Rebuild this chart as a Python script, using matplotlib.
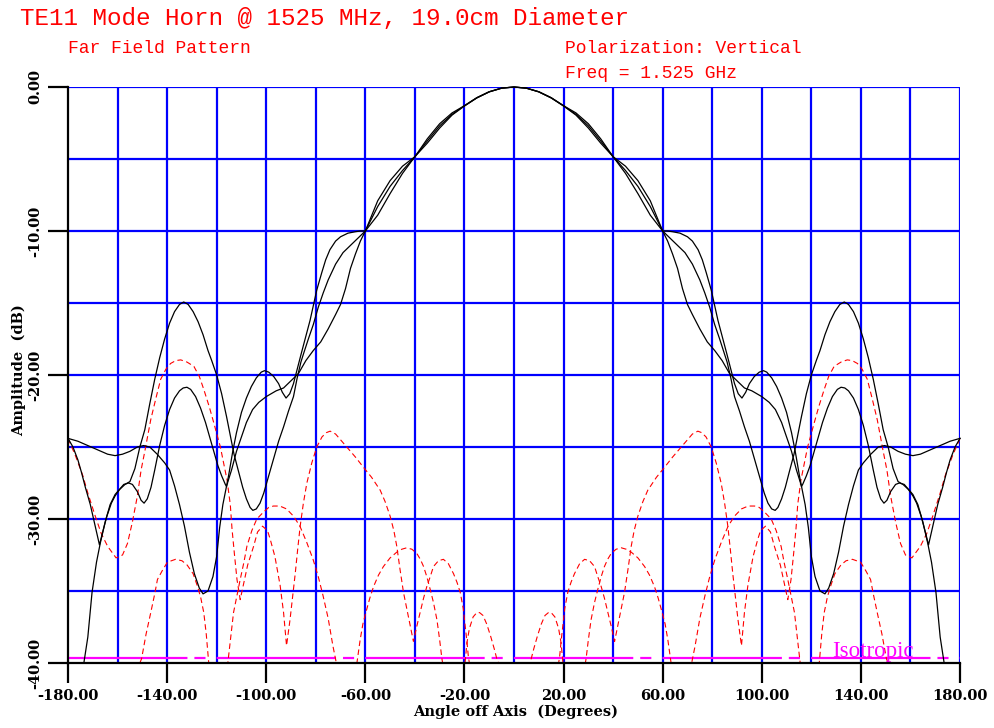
import numpy as np
import matplotlib
matplotlib.use("Agg")
import matplotlib.pyplot as plt

plt.rcParams['lines.scale_dashes'] = False

# ---- data (left half, pattern is symmetric about 0 deg) ----
# main lobe shared by the three co-pol cuts
main_ang = [-60, -55, -50, -45, -40, -35, -30, -25, -20, -15, -10, -5, 0]
main_a = [-10, -8.9, -7.4, -6.0, -4.84, -3.6, -2.55, -1.8, -1.3, -0.75, -0.33, -0.08, 0]
main_b = [-10, -8.3, -6.9, -5.8, -4.84, -3.75, -2.7, -1.9, -1.3, -0.74, -0.33, -0.08, 0]
main_c = [-10, -7.9, -6.5, -5.5, -4.84, -3.9, -2.85, -1.95, -1.32, -0.76, -0.34, -0.08, 0]

# co-pol cut 1 (flat start, deep null near -125)
c1_ang = [-180, -176, -172, -168, -164, -161, -158, -155, -152, -149.5, -147, -144, -141,
          -139, -137, -135, -133, -131, -129, -127, -125.5, -123.5, -121.5, -120, -118.8,
          -117.5, -116, -114, -112, -110, -108, -105.5, -103, -100, -96, -93, -90, -87,
          -84, -81, -78, -75, -72, -70, -68, -66, -64, -62]
c1_db = [-24.4, -24.6, -24.9, -25.2, -25.5, -25.6, -25.5, -25.3, -25.0, -24.9, -25.0, -25.5, -26.1,
         -26.6, -27.7, -29.0, -30.5, -32.3, -33.8, -34.8, -35.2, -35.0, -34.0, -32.6, -30.6,
         -29.0, -27.7, -26.6, -25.3, -24.3, -23.3, -22.4, -21.9, -21.5, -21.1, -20.9, -20.4, -19.9,
         -19.0, -18.3, -17.7, -16.8, -15.8, -15.1, -14.0, -12.6, -11.6, -10.7]

# co-pol cut 2 (V null at -167, -21 dB lobe, shoulder at -10 dB)
c2_ang = [-180, -178, -176, -174.5, -173, -171, -169, -167.3, -166, -164.3, -162.5, -161, -159,
          -157.5, -155.5, -154, -152, -150.5, -149.3, -148, -146.5, -145, -143, -141, -139,
          -137, -135, -133.5, -132, -130.5, -128.5, -126.5, -124.5, -122.5, -121, -119.5, -118,
          -116.5, -116, -115, -113.5, -112, -110, -108, -106, -104, -102, -100.7, -99, -97, -95,
          -93.5, -92, -90.5, -89, -87.5, -86, -84, -82.3, -79.6, -77.6, -76, -74.3, -72, -70,
          -67, -64, -62]
c2_db = [-24.4, -25.0, -25.9, -26.8, -27.8, -29.0, -30.5, -31.8, -30.9, -29.8, -28.9, -28.4, -27.9,
         -27.6, -27.5, -27.6, -28.1, -28.7, -28.9, -28.6, -27.8, -26.6, -24.9, -23.5, -22.4,
         -21.6, -21.1, -20.9, -20.85, -21.0, -21.5, -22.3, -23.3, -24.5, -25.4, -26.3, -27.0,
         -27.6, -27.75, -26.8, -25.3, -24.0, -22.6, -21.6, -20.8, -20.2, -19.8, -19.7, -19.8, -20.1, -20.6,
         -21.2, -21.6, -21.3, -20.6, -19.6, -18.6, -17.3, -16.2, -14.1, -12.9, -12.0, -11.3, -10.7, -10.4,
         -10.15, -10.05, -10.0]

# co-pol cut 3 (-15 dB sidelobe)
c3_ang = [-180, -173.6, -172, -170.3, -168.5, -167, -165, -163, -161, -159.5, -157, -155, -153,
          -151, -149, -147, -145, -143, -141, -139, -137, -135, -133.3, -131.5, -129.5, -127.5,
          -125.5, -123.5, -122, -120, -118, -116, -114.5, -113, -111, -109.5, -108, -106.5,
          -105.4, -104, -102.5, -101, -99, -97, -95, -93, -91, -89, -87.5, -86, -84.9, -83,
          -81, -79, -77, -75, -72, -69, -66, -63]
c3_db = [-40, -40, -38.2, -35.1, -33.0, -31.7, -30.2, -29.0, -28.3, -28.0, -27.6, -27.4, -26.5,
         -25.0, -23.8, -22.0, -20.3, -18.8, -17.5, -16.4, -15.6, -15.1, -14.93, -15.1, -15.6, -16.3,
         -17.2, -18.3, -19.0, -20.0, -21.3, -22.9, -24.2, -25.5, -26.8, -27.8, -28.6, -29.2,
         -29.4, -29.3, -28.9, -28.2, -27.0, -25.8, -24.6, -23.6, -22.5, -21.5, -20.2, -19.1, -18.5, -17.5,
         -16.5, -15.3, -14.3, -13.4, -12.3, -11.5, -11.0, -10.5]

# cross-pol cut 1
r1_ang = [-180, -177, -174, -172, -169, -166.6, -164, -160.6, -158, -156, -154, -152, -150.5,
          -149, -146.6, -144.5, -142.6, -140.5, -138.6, -136.5, -134.5, -132, -129.2, -127,
          -125.2, -123, -121.2, -118.5, -115.8, -114.5, -113.8, -112.8, -111.8, -110.5, -109.5,
          -107.5, -105.1, -103.5, -101.5, -99.5, -98.4, -96.5, -94.4, -93, -91.8, -90.4, -89.3,
          -88.3, -87.3, -86.3, -85, -83.6, -81.6, -79.6, -77.5, -75.7, -74.2, -72, -69.5, -67.5,
          -64, -60.8, -57.5, -54, -52, -50, -48.5, -47.3, -46, -44.6, -43.2, -41.9, -40.6, -39.3,
          -37.9, -36.5, -35.2, -33.8, -32.5, -30.5, -28.5, -26.5, -24.4, -23, -21.7, -20.5, -19.7,
          -19, -18.4, -18, 0]
r1_db = [-24.4, -25.6, -27.0, -28.2, -29.8, -31.0, -31.9, -32.7, -32.5, -31.7, -30.2, -28.4, -26.6,
         -25.3, -23.1, -21.6, -20.3, -19.6, -19.2, -19.0, -18.95, -19.1, -19.4, -20.1,
         -21.0, -22.2, -23.3, -25.0, -27.3, -29.0, -30.7, -32.5, -34.2, -35.6, -34.8,
         -33.2, -31.9, -30.9, -30.5, -30.8, -31.4, -32.6, -34.6, -36.5, -38.8, -37.0, -35.3,
         -33.8, -32.1, -30.5, -28.9, -27.5, -26.1, -25.0, -24.3, -24.0, -23.9, -24.1, -24.6, -25.0,
         -25.7, -26.4, -27.1, -28.0, -28.8, -29.8, -30.8, -31.9, -33.5, -35.1, -36.3, -37.4, -38.5, -37.5,
         -36.5, -35.5, -34.7, -34.0, -33.3, -32.9, -32.8, -33.1, -33.8, -34.4, -35.1, -36.2, -37.4,
         -38.5, -39.6, -40, -40]

# cross-pol cut 2
r2_ang = [-180, -151, -150.3, -148.5, -146.6, -145, -143.9, -142, -139.9, -136.6, -134, -131.9,
          -129.5, -127.9, -126.5, -125.2, -124.2, -123.2, -115.5, -114.2, -113.2, -111.8, -110.5,
          -109, -107.8, -105.8, -103.8, -101, -99, -97.1, -94.5, -91.8, -89, -86.4, -83.7, -81.1,
          -79, -77.1, -75, -73.1, -71.7, -63.4, -62.1, -61, -59.8, -58.2, -56.7, -54.7, -52.7, -50,
          -47.3, -45.3, -43.3, -41.2, -39.2, -37.8, -36.5, -35.2, -33.8, -32.5, -31.1, -30, -29.1,
          -28.8, -20, -19.7, -19, -18, -16.5, -15, -13.9, -12.5, -11, -9.5, -8, -6.8, -6.2, 0]
r2_db = [-40, -40, -39.7, -38.0, -36.5, -35.2, -34.2, -33.6, -33.0, -32.8, -32.9, -33.2,
         -33.8, -34.6, -35.4, -36.5, -38.0, -40, -40, -38.0, -36.5, -35.3, -34.2,
         -33.0, -31.9, -30.8, -30.0, -29.5, -29.2, -29.1, -29.1, -29.3, -29.8, -30.5, -31.6, -32.8,
         -34.0, -35.3, -36.9, -38.8, -40, -40, -38.4, -37.3, -36.5, -35.5, -34.7, -33.9, -33.3, -32.7,
         -32.3, -32.1, -32.0, -32.1, -32.4, -32.8, -33.3, -34.0, -34.9, -35.8, -37.0, -38.4, -39.7,
         -40, -40, -39.9, -38.6, -37.6, -36.8, -36.5, -36.5, -36.7, -37.3, -38.1, -39.0, -39.8, -40, -40]

iso_level = -39.65

x_ticks = [-180, -140, -100, -60, -20, 20, 60, 100, 140, 180]
y_ticks = [-40, -30, -20, -10, 0]


def full(ang, db):
    # mirror the left half onto the right half
    a = np.array(ang, dtype=float)
    d = np.array(db, dtype=float)
    return np.concatenate([a, -a[::-1]]), np.concatenate([d, d[::-1]])


fig = plt.figure(figsize=(9.95, 7.28), dpi=100)
ax = fig.add_axes([68/995, 65/728, 892/995, 576/728])
ax.set_xlim(-180, 180)
ax.set_ylim(-40, 0)

# blue grid
for gx in range(-160, 181, 20):
    ax.axvline(gx, color='#0000ff', lw=1.6, zorder=1)
for gy in range(-35, 1, 5):
    ax.axhline(gy, color='#0000ff', lw=1.6, zorder=1)

# isotropic level
ax.plot([-180, 180], [iso_level, iso_level], color='#ff00ff', lw=1.6,
        ls=(0, (86, 5, 8, 8)), zorder=2)
ax.text(128.3, -39.6, 'Isotropic', color='#ff00ff', fontsize=16.5,
        family='Liberation Serif', ha='left', va='baseline', zorder=5)

# cross-pol (red dashed)
for ang, db in [(r1_ang, r1_db), (r2_ang, r2_db)]:
    xa, ya = full(ang, db)
    ax.plot(xa, ya, color='#ff0000', lw=0.8, ls=(0, (4, 2.5)), zorder=3, clip_on=False)

# co-pol (black)
for ang, db, m in [(c1_ang, c1_db, main_a), (c2_ang, c2_db, main_b), (c3_ang, c3_db, main_c)]:
    xa, ya = full(list(ang) + main_ang, list(db) + m)
    ax.plot(xa, ya, color='black', lw=0.9, zorder=4, clip_on=False)

for s in ['top', 'right']:
    ax.spines[s].set_visible(False)
for s in ['left', 'bottom']:
    ax.spines[s].set_color('black')
    ax.spines[s].set_linewidth(1.6)
    ax.spines[s].set_zorder(6)

tick_font = {'family': 'DejaVu Serif', 'weight': 'bold', 'size': 10.5}
ax.set_xticks(x_ticks)
ax.set_xticklabels(['%.2f' % v for v in x_ticks], fontdict=tick_font)
ax.set_yticks(y_ticks)
ax.set_yticklabels(['%.2f' % v for v in y_ticks], fontdict=tick_font, rotation=90, va='center')
ax.tick_params(direction='out', length=14.5, width=1.6, color='black', pad=4)

fig.text(19/995, (728-370)/728, 'Amplitude  (dB)', rotation=90, ha='center', va='center',
         family='DejaVu Serif', weight='bold', fontsize=10.5)
fig.text(516/995, (728-712)/728, 'Angle off Axis  (Degrees)', ha='center', va='center',
         family='DejaVu Serif', weight='bold', fontsize=10.5)

red = '#ff0000'
fig.text(20/995, (728-25)/728, 'TE11 Mode Horn @ 1525 MHz, 19.0cm Diameter', color=red,
         family='Liberation Mono', fontsize=17.5, ha='left', va='baseline')
fig.text(68/995, (728-53)/728, 'Far Field Pattern', color=red,
         family='Liberation Mono', fontsize=13, ha='left', va='baseline')
fig.text(565/995, (728-53)/728, 'Polarization: Vertical', color=red,
         family='Liberation Mono', fontsize=13, ha='left', va='baseline')
fig.text(565/995, (728-78)/728, 'Freq = 1.525 GHz', color=red,
         family='Liberation Mono', fontsize=13, ha='left', va='baseline')

fig.savefig('out.png', dpi=100)
